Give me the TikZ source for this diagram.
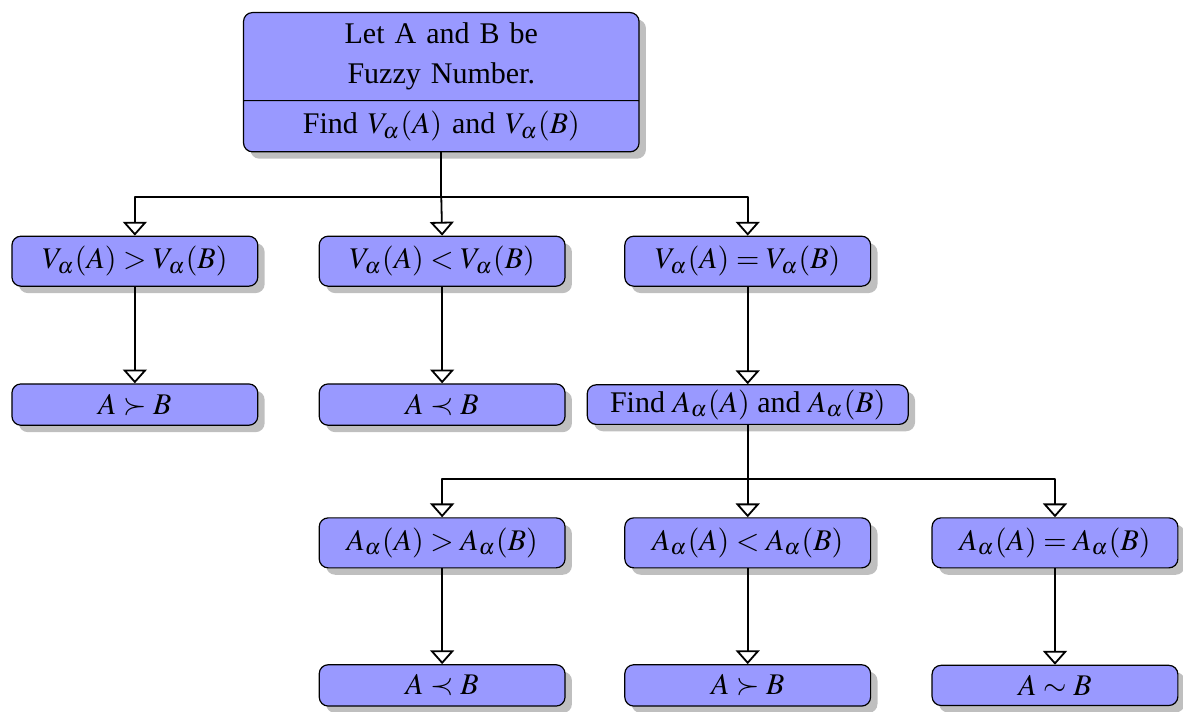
\documentclass[tikz,border=0pt]{standalone}
\usepackage{mathptmx}
\usepackage{fontspec}
\setmainfont{Liberation Serif}
\usetikzlibrary{shapes.multipart,shadows,arrows.meta}
\begin{document}
\begin{tikzpicture}[line join=round,
		box/.style={draw, rounded corners=3pt, fill=blue!40, drop shadow, minimum width=2.88cm},
		arr/.style={semithick, -{Triangle[open, width=8pt, length=4.6pt]}}]
				\def \xa{1.58}
				\def \xb{5.18}
				\def \xc{8.76}
				\def \xd{12.36}
				\useasboundingbox (0,0) rectangle (13.86,-8.33);
				% top box
				\node [box, rectangle split, rectangle split parts=2, text width=4.4cm, align=center, anchor=north] (start) at (5.17,-0.14)
					{Let A and B be\\[1.2pt] Fuzzy Number. \nodepart{two} Find $V_\alpha(A)$ and $V_\alpha(B)$};
				% first row
				\node [box] (vgt) at (\xa,-3.06) {$V_\alpha(A) > V_\alpha(B)$};
				\node [box] (vlt) at (\xb,-3.06) {$V_\alpha(A) < V_\alpha(B)$};
				\node [box] (veq) at (\xc,-3.06) {$V_\alpha(A) = V_\alpha(B)$};
				\node [box] (succa) at (\xa,-4.74) {$A \succ B$};
				\node [box] (preca) at (\xb,-4.74) {$A \prec B$};
				\node [box, minimum width=3.76cm, inner ysep=1.6pt] (finda) at (\xc,-4.74) {Find $A_\alpha(A)$ and $A_\alpha(B)$};
				% second row
				\node [box] (agt) at (\xb,-6.36) {$A_\alpha(A) > A_\alpha(B)$};
				\node [box] (alt) at (\xc,-6.36) {$A_\alpha(A) < A_\alpha(B)$};
				\node [box] (aeq) at (\xd,-6.36) {$A_\alpha(A) = A_\alpha(B)$};
				\node [box] (precb) at (\xb,-8.03) {$A \prec B$};
				\node [box] (succb) at (\xc,-8.03) {$A \succ B$};
				\node [box] (sim) at (\xd,-8.03) {$A \sim B$};
				% connectors
				\coordinate (j1) at (start.south |- 0,-2.31);
				\coordinate (j2) at (finda.south |- 0,-5.61);
				\draw [semithick] (start.south) -- (j1);
				\draw [arr] (j1) -| (vgt.north);
				\draw [arr] (j1) -- (vlt.north);
				\draw [arr] (j1) -| (veq.north);
				\draw [arr] (vgt) -- (succa);
				\draw [arr] (vlt) -- (preca);
				\draw [arr] (veq) -- (finda);
				\draw [semithick] (finda.south) -- (j2);
				\draw [arr] (j2) -| (agt.north);
				\draw [arr] (j2) -- (alt.north);
				\draw [arr] (j2) -| (aeq.north);
				\draw [arr] (agt) -- (precb);
				\draw [arr] (alt) -- (succb);
				\draw [arr] (aeq) -- (sim);
		\end{tikzpicture}
\end{document}
